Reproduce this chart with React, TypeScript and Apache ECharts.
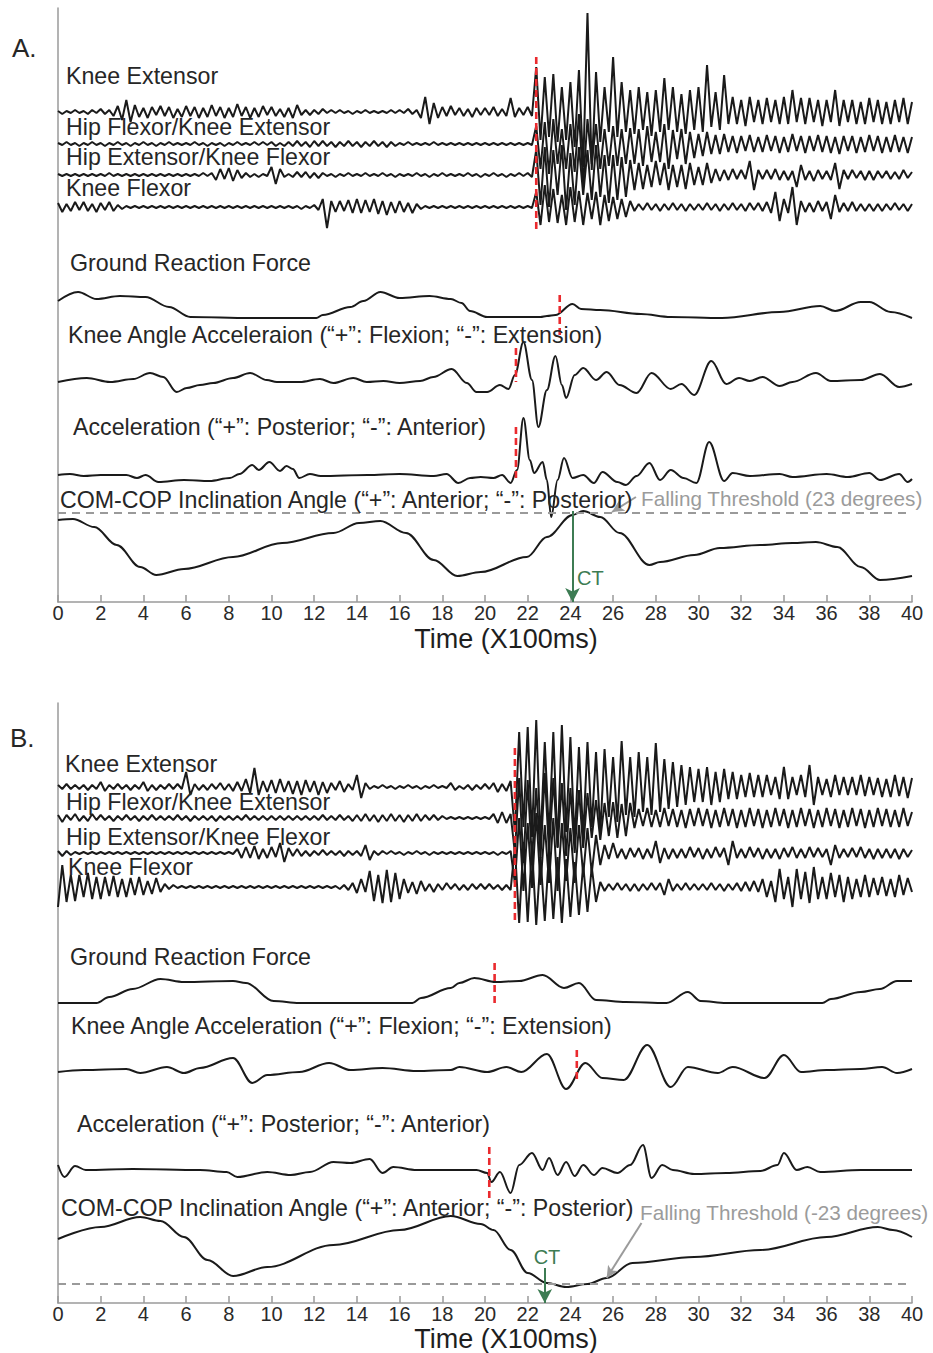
import React, { useEffect, useRef } from "react";
import * as echarts from "echarts";

// ---------------- DATA ----------------
const X_MIN = 0;
const X_MAX = 40;
const X_INTERVAL = 2;
const EMG_STEP = 0.2; // EMG samples every 0.2 (x100 ms)

// Panel A EMG (amplitude, arbitrary units)
const A_KE = [
  1,-2,1,-1,2, -1,1,-2,2,-1, 3,-2,2,-4,6, -8,12,-10,7,-5, 4,-6,5,-3,6,
  -4,5,-6,3,-5, 6,-4,5,-6,4, -5,7,-4,5,-6, 4,-5,8,-4,5, -6,4,-5,6,-3,
  5,-4,3,-5,4, -6,7,-3,2,-3, 2,-2,3,-1,2, -1,2,-1,1,-2, 1,-1,2,-1,1,
  -1,1,-1,2,-1, 2,-1,3,-2,2, -6,15,-12,9,-6, 5,-4,6,-3,4, -4,3,-5,4,-3,
  4,-3,5,-4,3, -4,14,-5,4,-3, 5,-4,45,-28,35, -25,38,-30,25,-28, 30,-35,42,-55,99,
  -58,40,-30,25,-20, 55,-25,30,-20,22, -22,25,-18,20,-24, 22,-20,34,-18,25, -20,18,-22,22,-18,
  25,-20,47,-15,20, -18,37,-12,15,-12, 12,-14,15,-10,12, -12,14,-10,12,-12, 15,-12,22,-10,14,
  -12,14,-10,12,-14, 12,-10,22,-14,12, -10,12,-12,10,-12, 14,-10,12,-12,10, -12,12,-10,14,-12,
  10,
];
const A_HF = [
  1,-1,2,-1,1, -2,1,-1,2,-1, 1,-2,1,-1,2, -1,1,-2,1,-1, 2,-1,1,-2,1,
  -1,2,-1,1,-1, 1,-1,2,-1,1, -2,1,-1,1,-2, 1,-1,2,-1,1, -1,2,-1,2,-1,
  2,-2,1,-2,2, -2,3,-2,2,-3, 3,-2,3,-2,2, -3,2,-2,3,-2, 2,-3,2,-2,3,
  -2,2,-3,2,-2, 1,-1,2,-1,1, -1,1,-1,2,-1, 1,-1,1,-1,1, -1,1,-1,1,-1,
  1,-1,1,-1,1, -1,1,-1,1,-1, 1,-1,18,-25,22, -30,25,-20,15,-25, 20,-28,30,-40,25,
  -20,20,-25,15,-22, 18,-22,15,-20,16, -20,15,-22,18,-18, 12,-18,20,-25,14, -15,15,-20,12,-14,
  10,-12,12,-10,9, -10,10,-8,8,-9, 8,-7,9,-8,7, -8,9,-7,8,-9, 7,-8,10,-7,8,
  -9,8,-7,9,-8, 8,-9,7,-10,8, -7,8,-9,7,-8, 9,-7,8,-9,7, -8,9,-8,7,-9,
  7,
];
const A_HE = [
  1,-1,1,-1,1, -1,1,-1,1,-1, 1,-1,2,-1,1, -1,1,-1,1,-1, 1,-1,1,-1,1,
  -1,1,-1,1,-1, 1,-1,1,-1,2, -1,2,-5,6,-4, 7,-6,5,-3,2, -2,1,-2,1,-1,
  8,-9,6,-2,1, -2,3,-2,3,-3, 2,-3,2,-1,1, -2,1,-1,2,-1, 1,-1,2,-1,1,
  -1,2,-1,1,-2, 1,-1,1,-1,2, -1,1,-2,1,-1, 2,-1,1,-1,1, -1,2,-1,1,-2,
  1,-1,2,-1,1, -2,1,-1,2,-1, 2,-2,25,-30,28, -32,25,-20,30,-35, 22,-30,28,-20,25,
  -25,30,-22,20,-28, 20,-25,18,-22,15, -15,12,-14,10,-12, 14,-10,12,-15,10, -12,10,-14,12,-10,
  8,-10,12,-8,6, -6,5,-5,6,-4, 5,-4,14,-15,5, -4,5,-4,6,-5, 4,-5,4,-12,10,
  -5,4,-6,5,-4, 4,-5,12,-14,5, -4,5,-3,4,-5, 4,-5,4,-3,4, -4,3,-4,5,-3,
  3,
];
const A_KF = [
  4,-5,3,-4,5, -3,5,-4,3,-5, 4,-3,5,-4,2, -2,1,-1,1,-1, 1,-1,1,-1,1,
  -1,1,-1,1,-1, 1,-1,1,-1,1, -1,1,-1,1,-1, 1,-1,1,-1,1, -1,1,-1,1,-1,
  1,-1,1,-1,1, -1,1,-2,1,-1, 2,-3,8,-21,6, -5,6,-4,7,-6, 8,-6,7,-5,8,
  -7,6,-8,5,-6, 6,-5,4,-6,3, -2,1,-1,1,-1, 1,-1,1,-1,1, -1,1,-1,1,-1,
  1,-1,1,-1,1, -1,1,-1,1,-1, 1,-1,15,-18,22, -15,18,-16,12,-18, 20,-15,16,-18,14,
  -12,15,-18,12,-14, 10,-12,8,-10,6, -4,3,-3,4,-3, 3,-4,3,-3,4, -3,3,-4,3,-3,
  3,-3,4,-3,3, -4,3,-3,4,-3, 3,-4,4,-3,4, -4,5,-6,15,-14, 8,-6,20,-18,6,
  -5,4,-5,6,-4, 5,-12,12,-5,4, -4,5,-4,3,-4, 3,-4,3,-4,3, -3,4,-3,3,-4,
  3,
];

// Panel B EMG
const B_KE = [
  2,-2,3,-2,2, -2,2,-3,2,-2, 5,-4,2,-2,3, -2,2,-3,2,-2, 5,-4,2,-3,2,
  -2,3,-2,3,-2, 15,-8,3,-3,2, -3,3,-2,4,-3, 3,-4,5,-4,8, -6,19,-8,6,-5,
  7,-6,8,-5,6, -7,6,-8,7,-5, 6,-8,5,-6,4, -3,6,-5,3,-3, 12,-11,4,-2,1,
  -1,2,-1,1,-2, 1,-1,2,-1,1, -2,1,-1,2,-1, 1,-1,4,-3,1, -2,2,-3,2,-2,
  3,-2,4,-5,3, -4,6,-45,55,-40, 60,-50,67,-55,45, -50,55,-60,62,-45, 50,-55,40,-50,45,
  -40,35,-45,38,-30, 30,-35,46,-28,30, -30,35,-25,30,-28, 44,-25,28,-22,25, -20,22,-18,20,-15,
  18,-15,20,-18,15, -15,18,-12,15,-12, 12,-10,14,-10,12, -10,12,-8,10,-12, 20,-12,10,-8,12,
  -10,22,-18,10,-8, 8,-10,12,-8,10, -8,10,-8,12,-9, 10,-8,9,-10,8, -10,12,-9,10,-11,
  9,
];
const B_HF = [
  3,-4,3,-2,4, -3,2,-3,4,-2, 3,-2,2,-3,2, -2,3,-2,2,-3, 2,-2,3,-2,2,
  -2,2,-2,3,-2, 2,-3,2,-2,2, -2,2,-3,2,-2, 2,-2,2,-2,3, -2,2,-2,2,-2,
  2,-2,2,-2,2, -2,2,-2,2,-2, 2,-2,3,-2,2, -2,3,-2,2,-3, 3,-3,4,-3,3,
  -4,3,-3,4,-3, 3,-4,3,-3,4, -3,3,-2,3,-2, 2,-1,1,-1,1, -1,1,-1,1,-1,
  1,-1,4,-5,6, -5,4,-35,40,-45, 38,-42,30,-40,45, -35,40,-30,35,-38, 30,-35,28,-30,25,
  -20,18,-22,15,-18, 16,-20,14,-18,15, -10,9,-8,10,-9, 8,-9,10,-8,9, -9,8,-10,9,-8,
  10,-8,9,-10,8, -9,10,-8,9,-10, 8,-9,10,-8,9, -10,8,-9,10,-8, 9,-10,8,-9,10,
  -8,9,-10,8,-9, 10,-8,9,-10,8, -9,10,-8,9,-10, 8,-9,10,-8,9, -9,8,-9,10,-8,
  6,
];
const B_HE = [
  2,-3,2,-2,1, -1,1,-1,1,-1, 1,-1,1,-1,1, -1,1,-1,1,-1, 1,-1,1,-1,1,
  -1,1,-1,1,-1, 1,-1,1,-1,1, -1,1,-1,1,-1, 1,-1,4,-5,6, -5,7,-6,4,-5,
  6,-4,10,-9,5, -3,4,-3,2,-3, 2,-2,3,-2,2, -2,2,-3,2,-2, 2,-3,8,-7,2,
  -2,2,-1,2,-1, 1,-2,1,-1,2, -1,1,-2,1,-1, 1,-1,1,-1,1, -1,1,-1,1,-1,
  1,-1,1,-2,1, -1,2,-30,35,-38, 30,-35,40,-32,28, -30,35,-38,30,-28, 25,-30,28,-22,25,
  -20,18,-12,8,-6, 10,-5,4,-6,5, -4,5,-6,4,-5, 12,-10,5,-6,4, -5,4,-5,6,-4,
  5,-6,4,-5,6, -4,5,-12,12,-5, 4,-5,6,-4,5, -6,4,-5,4,-6, 5,-4,6,-5,4,
  -5,6,-4,5,-4, 4,-12,8,-5,4, -4,5,-4,6,-5, 4,-6,4,-5,4, -5,4,-6,4,-4,
  3,
];
const B_KF = [
  -20,22,-15,12,-14, 12,-10,14,-12,10, -12,10,-9,11,-10, 8,-10,9,-8,10, -8,6,-7,9,-5,
  3,-2,2,-1,1, -1,1,-1,1,-1, 1,-1,1,-1,1, -1,1,-1,1,-1, 1,-1,1,-1,1,
  -1,1,-1,1,-1, 1,-1,1,-1,1, -1,1,-1,1,-1, 1,-2,2,-3,4, -6,8,-5,16,-14,
  12,-16,17,-15,14, -12,8,-6,5,-7, 6,-4,3,-5,3, -3,4,-2,3,-3, 2,-3,3,-2,3,
  -2,3,-2,2,-3, 2,-3,40,-36,45, -35,40,-38,30,-34, 35,-32,30,-36,28, -30,25,-28,22,-25,
  20,-15,5,-4,3, -3,4,-3,3,-4, 3,-4,3,-3,4, -3,4,-8,8,-4, 3,-3,4,-3,3,
  -3,3,-3,4,-3, 3,-4,3,-3,4, -4,5,-4,6,-5, 8,-10,6,-15,18, -12,10,-20,18,-12,
  15,-16,20,-12,10, -12,14,-10,12,-15, 10,-12,8,-10,12, -10,9,-8,10,-9, 8,-10,12,-8,9,
  -5,
];

// Panel A smooth signals: time (x100 ms) and value
const A_GRF_T = [0,0.94,1.8,2.9,4.1,5.2,6.2,9.0,12.1,12.4,13.7,14.3,15.1,16.0,17.4,18.4,18.9,19.3,20.1,22.6,22.9,23.3,24.1,24.5,25.4,27.3,28.7,31.1,33.8,35.7,36.4,37.6,38.0,39.0,40];
const A_GRF_V = [17,26,19,22,21,11,1,0,0,3,11,17,26,20,22,19,15,7,1,1,2,3,14,9,8,4,1,0,6,12,7,16,16,6,0];

const A_KAA_T = [0,1.35,2.44,3.53,4.31,4.93,5.56,6.03,6.65,7.27,8.2,9.0,9.78,10.25,11.33,12.27,12.9,13.83,14.46,15.24,16.0,16.96,17.58,18.44,19.15,19.6,20.1,20.7,21.1,21.4,21.8,22.2,22.5,22.9,23.3,23.6,23.8,24.2,24.6,25.2,25.7,26.3,27.1,27.8,28.7,29.2,29.8,30.6,31.3,31.9,32.4,33.0,33.8,34.4,35.5,36.2,37.6,38.5,39.4,40];
const A_KAA_V = [0,4,0,3,9,5,-10,-6,-3,-1,4,9,2,0,0,3,-1,4,0,1,-1,1,5,13,-1,-10,-10,-3,-7,7,40,2,-45,-8,26,-3,-16,7,14,2,10,-3,-11,9,-7,-2,-13,21,-2,4,1,5,-4,0,9,1,2,8,-5,-2];

const A_ACC_T = [0,0.56,1.2,2.0,3.2,3.7,4.1,4.7,5.9,7.1,8.05,8.5,9.1,9.4,9.9,10.4,10.7,11.0,11.3,11.8,12.3,14.5,16.0,17.6,18.2,18.75,19.3,19.8,20.4,20.8,21.2,21.5,21.8,22.1,22.3,22.7,22.9,23.1,23.4,23.7,24.1,24.6,25.1,25.5,26.2,26.6,27.1,27.7,28.2,28.7,29.3,29.9,30.5,31.2,31.6,32.4,33.8,34.4,36.0,37.0,38.0,38.5,39.4,39.8,40];
const A_ACC_V = [1,2,0,1,1,-2,1,-6,-4,-5,-2,2,11,6,14,5,10,7,-2,2,0,1,2,0,2,-7,-2,-1,-2,1,-7,6,58,16,3,14,-4,-41,-4,18,-2,1,-7,4,-6,-9,0,13,-4,6,-2,-7,34,-5,3,0,2,-1,2,-1,3,-4,2,-6,-3];

const A_COM_T = [0,0.7,1.7,2.75,3.85,4.6,5.9,8.2,10.5,12.9,14.1,15.1,16.3,17.6,18.7,19.8,21.96,22.9,24.1,24.6,25.4,26.3,27.7,28.2,29.8,31.0,32.9,34.4,35.5,36.5,37.6,38.5,40];
const A_COM_V = [-7,-6,-14,-32,-54,-62,-56,-44,-30,-20,-10,-8,-20,-47,-63,-59,-44,-24,-2,2,-4,-20,-52,-49,-42,-35,-32,-30,-29,-34,-54,-67,-63];

// Panel B smooth signals
const B_GRF_T = [0,1.8,2.4,3.5,4.8,5.9,8.2,8.8,10.1,11.3,16.6,17.0,18.4,18.8,19.5,20.5,21.6,22.7,23.7,24.4,25.2,26.6,28.5,29.5,30.1,31.3,35.8,36.2,37.6,38.5,39.3,40];
const B_GRF_V = [0,0,6,14,24,21,22,20,2,0,0,5,15,20,25,21,22,28,15,20,3,1,0,11,2,0,0,4,11,14,22,22];

const B_KAA_T = [0,1.2,3.2,3.85,5.1,5.9,6.65,8.2,9.1,9.8,11.3,12.7,13.7,15.2,16.8,18.4,18.8,20.1,21.0,21.7,22.9,23.8,24.7,25.5,26.5,27.6,28.7,29.5,30.9,31.6,33.1,34.0,34.8,36.0,37.6,38.6,39.3,40];
const B_KAA_V = [-2,0,1,-3,3,-3,2,12,-13,-5,-2,7,0,2,-1,0,3,-2,3,-2,16,-19,7,-8,-10,25,-17,3,-3,3,-8,15,-2,0,1,3,-3,1];

const B_ACC_T = [0,0.3,0.8,1.3,3.5,6.65,7.9,8.4,9.8,10.9,11.8,12.9,13.7,14.6,15.2,15.7,16.8,19.6,20.1,20.3,20.7,21.2,21.6,22.2,22.7,23.0,23.4,23.8,24.2,24.6,25.1,25.5,26.2,26.8,27.4,27.8,28.3,28.8,29.8,31.3,32.9,33.7,34.0,34.6,35.1,35.7,37.6,40];
const B_ACC_V = [5,-7,4,0,1,0,-2,-7,-2,-5,-2,8,7,11,-3,3,0,0,-3,-12,-2,-23,5,17,0,12,-5,8,-6,5,-5,2,-3,5,25,-8,5,0,-4,-3,-1,5,17,0,3,-2,0,0];

const B_COM_T = [0,2.0,3.85,4.8,5.9,7.0,8.2,9.8,12.9,16.0,18.4,19.8,20.4,21.2,22.0,22.9,23.8,24.8,25.7,26.9,29.8,32.9,36.0,38.4,39.1,40];
const B_COM_V = [45,57,67,63,47,24,8,17,39,54,68,60,54,34,11,1,-3,0,6,21,27,34,47,57,54,47];

// Event times (x100 ms)
const ONSET_A = { emg: 22.4, grf: 23.5, kaa: 21.45, acc: 21.45 };
const ONSET_B = { emg: 21.4, grf: 20.45, kaa: 24.3, acc: 20.2 };
const CT_A = 24.1;
const CT_B = 22.8;

// Texts
const EMG_LABELS = ["Knee Extensor", "Hip Flexor/Knee Extensor", "Hip Extensor/Knee Flexor", "Knee Flexor"];
const TITLE_X = "Time (X100ms)";

// ---------------- LAYOUT / STYLE ----------------
const FONT = "'Liberation Sans', Arial, Helvetica, sans-serif";
const INK = "#1a1a1a";
const AXIS_GRAY = "#9a9a9a";
const RED = "#ea2a2e";
const GREEN = "#3d7c53";
const LIGHT_GRAY = "#9b9b9b";
const GRID_LEFT = 58;
const GRID_WIDTH = 854;
const LABEL_SIZE = 23.2;

type Panel = {
  top: number;
  bottom: number;
  emg: [number[], number][];
  curves: [number[], number[], number][];
  onset: { t: number; y1: number; y2: number }[];
  ct: number;
  ctFromY: number;
  grayArrow: [[number, number], [number, number]];
};

const PANELS: Panel[] = [
  {
    top: 8,
    bottom: 602,
    emg: [[A_KE, 112], [A_HF, 144], [A_HE, 175], [A_KF, 207]],
    curves: [[A_GRF_T, A_GRF_V, 318], [A_KAA_T, A_KAA_V, 382], [A_ACC_T, A_ACC_V, 476], [A_COM_T, A_COM_V, 513]],
    onset: [
      { t: ONSET_A.emg, y1: 57, y2: 230 },
      { t: ONSET_A.grf, y1: 295, y2: 338 },
      { t: ONSET_A.kaa, y1: 348, y2: 382 },
      { t: ONSET_A.acc, y1: 427, y2: 482 },
    ],
    ct: CT_A,
    ctFromY: 511,
    grayArrow: [[27.07, 497], [25.95, 512]],
  },
  {
    top: 703,
    bottom: 1303,
    emg: [[B_KE, 787], [B_HF, 818], [B_HE, 853], [B_KF, 887]],
    curves: [[B_GRF_T, B_GRF_V, 1003], [B_KAA_T, B_KAA_V, 1070], [B_ACC_T, B_ACC_V, 1170], [B_COM_T, B_COM_V, 1284]],
    onset: [
      { t: ONSET_B.emg, y1: 748, y2: 923 },
      { t: ONSET_B.grf, y1: 963, y2: 1007 },
      { t: ONSET_B.kaa, y1: 1050, y2: 1083 },
      { t: ONSET_B.acc, y1: 1147, y2: 1202 },
    ],
    ct: CT_B,
    ctFromY: 1268,
    grayArrow: [[27.33, 1223], [25.7, 1278]],
  },
];

function buildOption() {
  const grid: any[] = [];
  const xAxis: any[] = [];
  const yAxis: any[] = [];
  const series: any[] = [];

  PANELS.forEach((p, i) => {
    const h = p.bottom - p.top;
    grid.push({ left: GRID_LEFT, width: GRID_WIDTH, top: p.top, height: h });
    xAxis.push({
      type: "value",
      gridIndex: i,
      min: X_MIN,
      max: X_MAX,
      interval: X_INTERVAL,
      axisLine: { show: true, onZero: false, lineStyle: { color: AXIS_GRAY, width: 1.5 } },
      axisTick: { show: true, inside: true, length: 7, lineStyle: { color: AXIS_GRAY, width: 1.5 } },
      axisLabel: { color: "#2a2a2a", fontSize: 20, fontFamily: FONT, margin: 1 },
      splitLine: { show: false },
    });
    yAxis.push({
      type: "value",
      gridIndex: i,
      min: 0,
      max: h,
      axisLine: { show: true, onZero: false, lineStyle: { color: AXIS_GRAY, width: 1.5 } },
      axisTick: { show: false },
      axisLabel: { show: false },
      splitLine: { show: false },
    });
    const val = (py: number) => p.bottom - py;
    const common = {
      type: "line",
      xAxisIndex: i,
      yAxisIndex: i,
      symbol: "none",
      showSymbol: false,
      silent: true,
      clip: false,
      emphasis: { disabled: true },
    };

    p.emg.forEach(([arr, base]) => {
      const off = val(base);
      series.push({
        ...common,
        data: arr.map((v, k) => [Math.round(k * EMG_STEP * 100) / 100, off + v]),
        lineStyle: { color: INK, width: 2 },
        z: 2,
      });
    });

    p.curves.forEach(([T, V, base], ci) => {
      const off = val(base);
      const s: any = {
        ...common,
        data: T.map((t, k) => [t, off + V[k]]),
        smooth: 0.35,
        smoothMonotone: "x",
        lineStyle: { color: INK, width: 2 },
        z: 2,
      };
      if (ci === 3) {
        s.markLine = {
          silent: true,
          symbol: "none",
          label: { show: false },
          lineStyle: { color: AXIS_GRAY, width: 2, type: [8, 6] },
          data: [[{ coord: [X_MIN, off] }, { coord: [X_MAX, off] }]],
        };
      }
      series.push(s);
    });

    p.onset.forEach((o) => {
      series.push({
        ...common,
        data: [[o.t, val(o.y1)], [o.t, val(o.y2)]],
        lineStyle: { color: RED, width: 2.6, type: [7, 4] },
        z: 6,
      });
    });

    // CT arrow
    series.push({
      ...common,
      data: [[p.ct, 0]],
      lineStyle: { width: 0 },
      markLine: {
        silent: true,
        symbol: ["none", "arrow"],
        symbolSize: [11, 14],
        label: { show: false },
        lineStyle: { color: GREEN, width: 2, type: "solid" },
        data: [[{ coord: [p.ct, val(p.ctFromY)] }, { coord: [p.ct, 0] }]],
      },
      z: 7,
    });

    // Falling-threshold pointer arrow
    series.push({
      ...common,
      data: [[p.grayArrow[0][0], val(p.grayArrow[0][1])]],
      lineStyle: { width: 0 },
      markLine: {
        silent: true,
        symbol: ["none", "arrow"],
        symbolSize: [9, 12],
        label: { show: false },
        lineStyle: { color: LIGHT_GRAY, width: 2, type: "solid" },
        data: [[
          { coord: [p.grayArrow[0][0], val(p.grayArrow[0][1])] },
          { coord: [p.grayArrow[1][0], val(p.grayArrow[1][1])] },
        ]],
      },
      z: 7,
    });
  });

  const txt = (text: string, x: number, y: number, size: number, fill = "#262626", align = "left") => ({
    type: "text",
    x,
    y,
    z: 10,
    silent: true,
    style: { text, fill, fontSize: size, fontFamily: FONT, textAlign: align, textVerticalAlign: "middle" },
  });

  const graphic: any[] = [
    txt("A.", 12, 48, 26),
    txt(EMG_LABELS[0], 66, 76, LABEL_SIZE),
    txt(EMG_LABELS[1], 66, 127, LABEL_SIZE),
    txt(EMG_LABELS[2], 66, 157, LABEL_SIZE),
    txt(EMG_LABELS[3], 66, 188, LABEL_SIZE),
    txt("Ground Reaction Force", 70, 263, LABEL_SIZE),
    txt("Knee Angle Acceleraion (\u201C+\u201D: Flexion; \u201C-\u201D: Extension)", 68, 335, LABEL_SIZE),
    txt("Acceleration (\u201C+\u201D: Posterior; \u201C-\u201D: Anterior)", 73, 427, LABEL_SIZE),
    txt("COM-COP Inclination Angle (\u201C+\u201D: Anterior; \u201C-\u201D: Posterior)", 60, 500, LABEL_SIZE),
    txt("Falling Threshold (23 degrees)", 641, 498, 20.7, LIGHT_GRAY),
    txt("CT", 577, 578, 20, GREEN),
    txt(TITLE_X, 506, 639, 27, "#1e1e1e", "center"),

    txt("B.", 10, 738, 26),
    txt(EMG_LABELS[0], 65, 764, LABEL_SIZE),
    txt(EMG_LABELS[1], 66, 802, LABEL_SIZE),
    txt(EMG_LABELS[2], 66, 837, LABEL_SIZE),
    txt(EMG_LABELS[3], 68, 867, LABEL_SIZE),
    txt("Ground Reaction Force", 70, 957, LABEL_SIZE),
    txt("Knee Angle Acceleration (\u201C+\u201D: Flexion; \u201C-\u201D: Extension)", 71, 1026, LABEL_SIZE),
    txt("Acceleration (\u201C+\u201D: Posterior; \u201C-\u201D: Anterior)", 77, 1124, LABEL_SIZE),
    txt("COM-COP Inclination Angle (\u201C+\u201D: Anterior; \u201C-\u201D: Posterior)", 61, 1208, LABEL_SIZE),
    txt("Falling Threshold (-23 degrees)", 640, 1212, 20.7, LIGHT_GRAY),
    txt("CT", 547, 1257, 20, GREEN, "center"),
    txt(TITLE_X, 506, 1339, 27, "#1e1e1e", "center"),
  ];

  return {
    animation: false,
    backgroundColor: "#ffffff",
    grid,
    xAxis,
    yAxis,
    series,
    graphic,
  };
}

export default function App() {
  const ref = useRef<HTMLDivElement>(null);
  useEffect(() => {
    if (!ref.current) return;
    const chart = echarts.init(ref.current, null, { renderer: "svg" });
    chart.setOption(buildOption() as any);
    return () => chart.dispose();
  }, []);
  return (
    <div
      ref={ref}
      style={{ position: "absolute", left: 0, top: 0, width: 933, height: 1353, background: "#fff" }}
    />
  );
}
